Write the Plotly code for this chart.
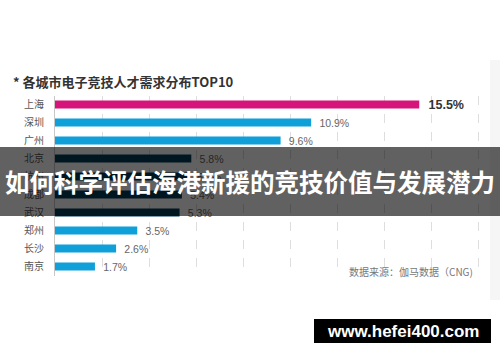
import plotly.graph_objects as go

W, H = 500, 362

cities = ["上海", "深圳", "广州", "北京", "杭州", "成都", "武汉", "郑州", "长沙", "南京"]
shares = [15.5, 10.9, 9.6, 5.8, 5.7, 5.4, 5.3, 3.5, 2.6, 1.7]
bar_colors = ["#d6157b", "#0fa0da", "#0fa0da", "#003d57", "#003d57", "#003d57",
              "#003d57", "#0fa0da", "#0fa0da", "#0fa0da"]
label_texts = ["<b>15.5%</b>", "10.9%", "9.6%", "5.8%", "5.7%", "5.4%", "5.3%", "3.5%", "2.6%", "1.7%"]
label_colors = ["#333333"] + ["#666666"] * 9
label_sizes = [12.5] + [10.5] * 9

title_text = "* 各城市电子竞技人才需求分布TOP10"
source_text = "数据来源：伽马数据（CNG)"
banner_text = "如何科学评估海港新援的竞技价值与发展潜力"
mark_text = "www.hefei400.com"


def px(x):
    return x / W


def py(y):
    return 1 - y / H


fig = go.Figure()
fig.add_trace(go.Bar(
    x=shares, y=cities, orientation="h",
    marker=dict(color=bar_colors, line=dict(width=0)),
    width=0.45,
    text=label_texts,
    texttemplate="\u2002%{text}",
    textposition="outside",
    constraintext="none",
    textfont=dict(color=label_colors, size=label_sizes, family="Liberation Sans, Arial, sans-serif"),
    cliponaxis=False,
    hoverinfo="skip",
))

x_px0, x_px1 = 55, 500
pxs_per_pct = 23.5
fig.update_xaxes(
    domain=[px(x_px0), px(x_px1)],
    range=[0, (x_px1 - x_px0) / pxs_per_pct],
    dtick=2, tick0=0,
    showgrid=True, gridcolor="#dedede", griddash="dash", gridwidth=1,
    zeroline=False, showline=False, showticklabels=False, ticks="",
    automargin=False,
)
fig.update_yaxes(
    domain=[py(275.5), py(95.5)],
    autorange="reversed",
    showgrid=False, zeroline=False,
    showline=True, linecolor="#c8c8c8", linewidth=1,
    ticks="", ticklabelstandoff=8,
    tickfont=dict(size=10, color="#555555", family="Noto Sans CJK SC"),
    automargin=False,
)

shapes = [
    # banner
    dict(type="rect", xref="paper", yref="paper", x0=0, x1=1, y0=py(216), y1=py(147),
         fillcolor="rgba(0,0,0,0.62)", line=dict(width=0), layer="above"),
    # watermark box
    dict(type="rect", xref="paper", yref="paper", x0=px(314), x1=px(491), y0=py(343), y1=py(319),
         fillcolor="#000000", line=dict(width=0), layer="above"),
    # faint right shadow
    dict(type="rect", xref="paper", yref="paper", x0=px(490), x1=1, y0=py(300), y1=py(60),
         fillcolor="rgba(0,0,0,0.035)", line=dict(width=0), layer="below"),
]

annotations = [
    dict(text="<b>" + title_text + "</b>", xref="paper", yref="paper", x=px(11), y=py(81.5),
         xanchor="left", yanchor="middle", showarrow=False,
         font=dict(size=13, color="#333333", family="Noto Sans CJK SC")),
    dict(text=source_text, xref="paper", yref="paper", x=px(475), y=py(271.5),
         xanchor="right", yanchor="middle", showarrow=False,
         font=dict(size=10, color="#777777", family="Noto Sans CJK SC")),
    dict(text="<b>" + banner_text + "</b>", xref="paper", yref="paper", x=0.5, y=py(181.5),
         xanchor="center", yanchor="middle", showarrow=False,
         font=dict(size=24.5, color="#ffffff", family="Noto Sans CJK SC")),
    dict(text="<b>" + mark_text + "</b>", xref="paper", yref="paper", x=px(402.5), y=py(331),
         xanchor="center", yanchor="middle", showarrow=False,
         font=dict(size=17, color="#ffffff", family="Liberation Sans, Arial, sans-serif")),
]

fig.update_layout(
    width=W, height=H,
    margin=dict(l=0, r=0, t=0, b=0, autoexpand=False),
    paper_bgcolor="#ffffff", plot_bgcolor="#ffffff",
    showlegend=False,
    shapes=shapes,
    annotations=annotations,
    bargap=0.55,
)

fig.write_html(
    "out.html",
    config={"displayModeBar": False},
    post_script="document.body.style.margin='0';document.body.style.overflow='hidden';",
)
